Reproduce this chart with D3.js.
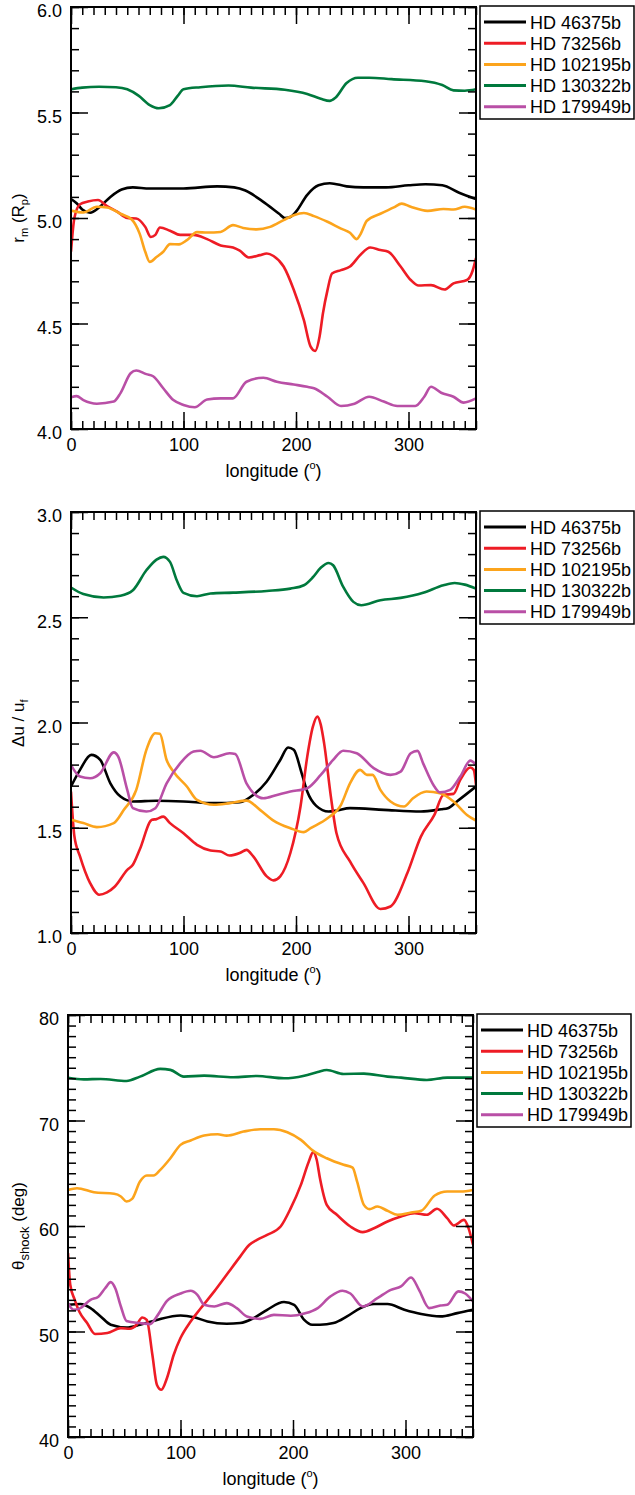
<!DOCTYPE html>
<html>
<head>
<meta charset="utf-8">
<script src="https://cdn.jsdelivr.net/npm/d3@7"></script>
<style>
  body { margin: 0; background: #fff; }
  svg { display: block; }
  text { font-family: "Liberation Sans", Arial, Helvetica, sans-serif; fill: #000; }
</style>
</head>
<body>
<div id="chart"></div>
<script>

var planets = ["HD 46375b", "HD 73256b", "HD 102195b", "HD 130322b", "HD 179949b"];
var colors = ["#000000", "#ee1c25", "#fca41c", "#00793d", "#b94fa6"];

var lonTicks = [0, 100, 200, 300];

// panel 1 : r_m (R_p)  -- [longitude, value]
var rm_46375 = [[0,5.09],[5,5.07],[10,5.04],[17,5.025],[25,5.05],[35,5.10],[45,5.135],[55,5.145],[70,5.14],[100,5.14],[130,5.15],[145,5.145],[155,5.13],[170,5.08],[185,5.02],[190,5.0],[195,5.005],[200,5.03],[210,5.11],[220,5.155],[230,5.165],[245,5.15],[260,5.145],[280,5.145],[300,5.155],[315,5.16],[330,5.155],[345,5.12],[360,5.09]];
var rm_73256 = [[0,4.84],[3,5.0],[8,5.065],[15,5.078],[24,5.085],[32,5.056],[41,5.03],[50,5.0],[58,4.998],[66,4.958],[71,4.91],[75,4.92],[79,4.955],[88,4.94],[97,4.92],[109,4.92],[121,4.9],[133,4.87],[144,4.86],[150,4.845],[158,4.813],[168,4.824],[174,4.832],[180,4.82],[189,4.77],[198,4.66],[207,4.516],[213,4.39],[217,4.37],[221,4.44],[224,4.55],[228,4.658],[232,4.737],[240,4.753],[248,4.77],[257,4.824],[266,4.86],[275,4.848],[282,4.84],[293,4.77],[302,4.706],[309,4.68],[320,4.682],[332,4.661],[340,4.69],[352,4.706],[357,4.75],[360,4.81]];
var rm_102195 = [[0,5.035],[11,5.026],[23,5.053],[32,5.05],[44,5.02],[54,4.993],[61,4.926],[66,4.84],[70,4.792],[76,4.815],[82,4.84],[88,4.876],[96,4.875],[103,4.895],[112,4.933],[121,4.931],[133,4.934],[144,4.966],[153,4.953],[165,4.946],[177,4.958],[189,4.99],[198,5.013],[207,5.024],[216,5.009],[228,4.982],[240,4.95],[248,4.93],[254,4.9],[257,4.92],[263,4.987],[275,5.02],[287,5.05],[294,5.068],[302,5.053],[317,5.034],[331,5.043],[340,5.04],[350,5.053],[360,5.04]];
var rm_130322 = [[0,5.61],[10,5.618],[25,5.622],[40,5.62],[50,5.61],[60,5.58],[70,5.535],[78,5.52],[88,5.535],[95,5.58],[100,5.61],[115,5.62],[140,5.628],[160,5.618],[190,5.608],[210,5.588],[222,5.565],[230,5.555],[235,5.57],[245,5.64],[255,5.665],[265,5.665],[285,5.658],[315,5.648],[330,5.63],[340,5.605],[350,5.603],[360,5.61]];
var rm_179949 = [[0,4.15],[5,4.156],[11,4.137],[23,4.12],[38,4.13],[44,4.17],[53,4.264],[58,4.277],[67,4.26],[73,4.25],[82,4.193],[91,4.137],[100,4.114],[110,4.103],[121,4.14],[133,4.145],[144,4.145],[156,4.224],[171,4.243],[183,4.224],[198,4.211],[210,4.2],[216,4.193],[228,4.153],[240,4.109],[252,4.12],[265,4.153],[278,4.13],[290,4.109],[306,4.109],[314,4.153],[320,4.2],[329,4.172],[340,4.153],[349,4.125],[360,4.145]];

// panel 2 : du / u_f
var du_46375 = [[0,1.696],[8,1.775],[18,1.846],[26,1.822],[35,1.711],[44,1.648],[55,1.625],[76,1.628],[100,1.625],[127,1.617],[150,1.621],[162,1.656],[174,1.72],[186,1.822],[193,1.881],[198,1.87],[205,1.76],[210,1.672],[218,1.604],[229,1.577],[236,1.582],[248,1.593],[278,1.585],[311,1.577],[329,1.588],[335,1.593],[343,1.625],[360,1.696]];
var du_73256 = [[0,1.672],[3,1.46],[8,1.364],[17,1.237],[25,1.182],[32,1.193],[39,1.221],[50,1.30],[55,1.324],[61,1.395],[72,1.538],[76,1.541],[82,1.553],[88,1.522],[100,1.474],[112,1.419],[124,1.392],[133,1.387],[141,1.368],[150,1.38],[156,1.395],[162,1.364],[174,1.269],[180,1.25],[186,1.269],[195,1.38],[204,1.601],[210,1.838],[215,1.98],[219,2.028],[222,1.99],[225,1.901],[231,1.648],[236,1.474],[248,1.34],[260,1.237],[275,1.114],[284,1.126],[299,1.285],[311,1.458],[323,1.561],[331,1.656],[340,1.661],[346,1.727],[355,1.786],[358,1.775],[360,1.704]];
var du_102195 = [[0,1.538],[11,1.522],[23,1.503],[38,1.522],[47,1.585],[58,1.68],[67,1.87],[75,1.949],[79,1.946],[85,1.822],[91,1.767],[103,1.696],[112,1.632],[127,1.609],[141,1.617],[156,1.629],[168,1.585],[180,1.534],[195,1.498],[207,1.479],[213,1.498],[228,1.545],[240,1.609],[248,1.711],[257,1.775],[263,1.751],[268,1.751],[275,1.68],[284,1.625],[296,1.601],[304,1.64],[316,1.672],[328,1.664],[340,1.625],[352,1.561],[360,1.534]];
var du_130322 = [[0,2.641],[11,2.61],[29,2.594],[44,2.602],[55,2.628],[67,2.723],[76,2.774],[82,2.787],[88,2.763],[94,2.676],[100,2.616],[112,2.6],[124,2.613],[144,2.617],[174,2.625],[195,2.636],[207,2.652],[215,2.69],[222,2.735],[229,2.758],[233,2.747],[242,2.644],[251,2.573],[258,2.557],[275,2.581],[293,2.592],[313,2.616],[331,2.652],[341,2.663],[350,2.655],[360,2.636]];
var du_179949 = [[0,1.798],[8,1.743],[17,1.735],[26,1.759],[38,1.858],[42,1.838],[50,1.68],[55,1.593],[67,1.577],[75,1.593],[85,1.711],[97,1.806],[109,1.862],[115,1.866],[127,1.835],[141,1.854],[146,1.85],[156,1.711],[171,1.64],[183,1.656],[195,1.672],[210,1.688],[222,1.751],[233,1.822],[242,1.866],[254,1.854],[269,1.783],[284,1.751],[293,1.767],[302,1.854],[308,1.865],[313,1.806],[323,1.696],[328,1.668],[337,1.68],[346,1.743],[355,1.819],[360,1.798]];

// panel 3 : theta_shock (deg)
var th_46375 = [[0,52.53],[11,52.6],[20,52.22],[29,51.43],[38,50.64],[52,50.38],[64,50.64],[79,51.1],[100,51.52],[112,51.36],[124,50.95],[141,50.73],[153,50.8],[165,51.27],[177,52.06],[192,52.79],[201,52.53],[210,51.1],[217,50.64],[224,50.64],[236,50.8],[248,51.43],[260,52.22],[272,52.6],[284,52.6],[299,52.06],[314,51.65],[331,51.43],[346,51.74],[360,52.06]];
var th_73256 = [[0,57.43],[2,54.43],[6,53.0],[10,51.9],[17,50.8],[24,49.76],[35,49.85],[47,50.32],[55,50.26],[61,50.64],[66,51.33],[70,51.1],[75,47.8],[79,44.96],[83,44.48],[88,45.59],[94,47.8],[100,49.38],[109,50.95],[118,52.2],[130,53.8],[141,55.38],[153,57.1],[161,58.2],[168,58.69],[177,59.16],[189,59.95],[198,61.69],[207,63.9],[214,66.1],[218,67.0],[221,66.3],[224,64.5],[230,62.0],[239,61.06],[251,59.95],[262,59.42],[272,59.79],[284,60.43],[296,60.9],[308,61.22],[319,61.06],[328,61.63],[337,60.74],[343,60.05],[352,60.58],[356,59.8],[360,58.22]];
var th_102195 = [[0,63.42],[8,63.58],[23,63.2],[41,63.05],[47,62.8],[52,62.32],[57,62.57],[64,64.21],[70,64.78],[76,64.78],[82,65.32],[91,66.42],[100,67.69],[109,68.1],[121,68.57],[133,68.7],[141,68.57],[156,68.95],[171,69.17],[183,69.17],[195,68.89],[207,68.16],[218,67.12],[230,66.42],[245,65.8],[253,65.54],[257,64.21],[263,62.0],[268,61.6],[275,61.85],[284,61.44],[293,61.06],[305,61.28],[314,61.44],[326,62.89],[337,63.27],[349,63.27],[360,63.42]];
var th_130322 = [[0,74.06],[14,73.9],[29,73.94],[52,73.75],[64,74.16],[82,74.89],[91,74.8],[103,74.16],[121,74.25],[147,74.1],[168,74.22],[192,74.0],[210,74.25],[222,74.6],[230,74.79],[245,74.41],[263,74.44],[284,74.16],[296,74.06],[319,73.84],[337,74.06],[360,74.06]];
var th_179949 = [[0,52.69],[5,52.06],[11,52.22],[20,53.0],[27,53.3],[33,54.1],[38,54.68],[42,54.1],[47,52.37],[52,51.0],[64,50.8],[73,50.7],[79,51.43],[88,52.9],[100,53.6],[109,53.86],[115,53.48],[121,52.53],[130,52.37],[141,52.69],[150,52.22],[159,51.43],[171,51.2],[183,51.58],[198,51.49],[210,51.7],[222,52.22],[233,53.3],[244,53.86],[251,53.6],[262,52.37],[275,53.16],[287,53.95],[296,54.27],[305,55.12],[312,53.95],[321,52.22],[331,52.47],[337,52.53],[347,53.8],[353,53.6],[360,52.85]];

var panels = [
  { left: 71, right: 476, top: 7, bottom: 429, ydom: [4, 6], major: 0.5, minor: 0.1, fmt: ".1f",
    series: [rm_46375, rm_73256, rm_102195, rm_130322, rm_179949], ylab: "rm" },
  { left: 71, right: 476, top: 512, bottom: 933, ydom: [1, 3], major: 0.5, minor: 0.1, fmt: ".1f",
    series: [du_46375, du_73256, du_102195, du_130322, du_179949], ylab: "du" },
  { left: 68, right: 473, top: 1015, bottom: 1437, ydom: [40, 80], major: 10, minor: 1, fmt: "d",
    series: [th_46375, th_73256, th_102195, th_130322, th_179949], ylab: "th" }
];

var svg = d3.select("#chart").append("svg")
    .attr("width", 635)
    .attr("height", 1495);

function steps(a, b, s) {
  var out = [];
  var n = Math.round((b - a) / s);
  for (var i = 0; i <= n; i++) out.push(+(a + i * s).toFixed(6));
  return out;
}

panels.forEach(function(p) {
  var w = p.right - p.left, h = p.bottom - p.top;
  var x = d3.scaleLinear().domain([0, 360]).range([0, w]);
  var y = d3.scaleLinear().domain(p.ydom).range([h, 0]);

  var g = svg.append("g").attr("transform", "translate(" + p.left + "," + p.top + ")");

  g.append("defs").append("clipPath").attr("id", "clip" + p.top)
    .append("rect").attr("width", w).attr("height", h);

  var line = d3.line()
      .x(function(d) { return x(d[0]); })
      .y(function(d) { return y(d[1]); })
      .curve(d3.curveMonotoneX);

  var lines = g.append("g").attr("clip-path", "url(#clip" + p.top + ")");
  p.series.forEach(function(s, i) {
    lines.append("path")
      .datum(s)
      .attr("d", line)
      .attr("fill", "none")
      .attr("stroke", colors[i])
      .attr("stroke-width", 2.6)
      .attr("stroke-linejoin", "round");
  });

  var xMinor = steps(0, 360, 10);
  var yMajor = steps(p.ydom[0], p.ydom[1], p.major);
  var yMinor = steps(p.ydom[0], p.ydom[1], p.minor);

  function clean(sel) {
    sel.select(".domain").remove();
    sel.selectAll("line").attr("stroke", "#000").attr("stroke-width", 1.5);
    sel.selectAll("text").attr("font-size", 18).attr("font-family", null);
  }

  // minor ticks on all four sides
  g.append("g").attr("transform", "translate(0," + h + ")")
    .call(d3.axisBottom(x).tickValues(xMinor).tickSize(-8).tickFormat("")).call(clean);
  g.append("g")
    .call(d3.axisTop(x).tickValues(xMinor).tickSize(-8).tickFormat("")).call(clean);
  g.append("g")
    .call(d3.axisLeft(y).tickValues(yMinor).tickSize(-8).tickFormat("")).call(clean);
  g.append("g").attr("transform", "translate(" + w + ",0)")
    .call(d3.axisRight(y).tickValues(yMinor).tickSize(-8).tickFormat("")).call(clean);

  // major ticks and labels
  g.append("g").attr("transform", "translate(0," + h + ")")
    .call(d3.axisBottom(x).tickValues(lonTicks).tickSize(-17).tickPadding(9)).call(clean);
  g.append("g")
    .call(d3.axisTop(x).tickValues(lonTicks).tickSize(-17).tickFormat("")).call(clean);
  g.append("g")
    .call(d3.axisLeft(y).tickValues(yMajor).tickSize(-17).tickPadding(9).tickFormat(d3.format(p.fmt)))
    .call(clean)
    .selectAll("text").attr("dy", "0.55em");
  g.append("g").attr("transform", "translate(" + w + ",0)")
    .call(d3.axisRight(y).tickValues(yMajor).tickSize(-17).tickFormat("")).call(clean);

  g.append("rect")
    .attr("width", w).attr("height", h)
    .attr("fill", "none").attr("stroke", "#000").attr("stroke-width", 2);

  // x label
  var xl = g.append("text")
    .attr("x", w / 2).attr("y", h + 48)
    .attr("text-anchor", "middle").attr("font-size", 18);
  xl.append("tspan").text("longitude (");
  xl.append("tspan").attr("dy", -8).attr("font-size", 11).text("o");
  xl.append("tspan").attr("dy", 8).text(")");

  // y label
  var yl = svg.append("text")
    .attr("transform", "translate(" + 24 + "," + (p.top + h / 2) + ") rotate(-90)")
    .attr("text-anchor", "middle").attr("font-size", 17);
  if (p.ylab === "rm") {
    yl.append("tspan").text("r");
    yl.append("tspan").attr("dy", 4).attr("font-size", 11).text("m");
    yl.append("tspan").attr("dy", -4).text(" (R");
    yl.append("tspan").attr("dy", 4).attr("font-size", 11).text("p");
    yl.append("tspan").attr("dy", -4).text(")");
  } else if (p.ylab === "du") {
    yl.append("tspan").text("\u0394u / u");
    yl.append("tspan").attr("dy", 4).attr("font-size", 11).text("f");
    yl.append("tspan").attr("dy", -4).text("\u200a");
  } else {
    yl.append("tspan").text("\u03b8");
    yl.append("tspan").attr("dy", 5).attr("font-size", 13).text("shock");
    yl.append("tspan").attr("dy", -5).text(" (deg)");
  }

  // legend
  var lg = svg.append("g").attr("transform", "translate(" + (p.right + 4) + "," + (p.top - 1) + ")");
  lg.append("rect")
    .attr("x", 0).attr("y", 0).attr("width", 154).attr("height", 113)
    .attr("fill", "#fff").attr("stroke", "#000").attr("stroke-width", 1.5);
  planets.forEach(function(name, i) {
    var yy = 16 + i * 21.2;
    lg.append("line")
      .attr("x1", 4).attr("x2", 46).attr("y1", yy).attr("y2", yy)
      .attr("stroke", colors[i]).attr("stroke-width", 3);
    lg.append("text")
      .attr("x", 50).attr("y", yy + 6.5)
      .attr("font-size", 18)
      .text(name);
  });
});

</script>
</body>
</html>
